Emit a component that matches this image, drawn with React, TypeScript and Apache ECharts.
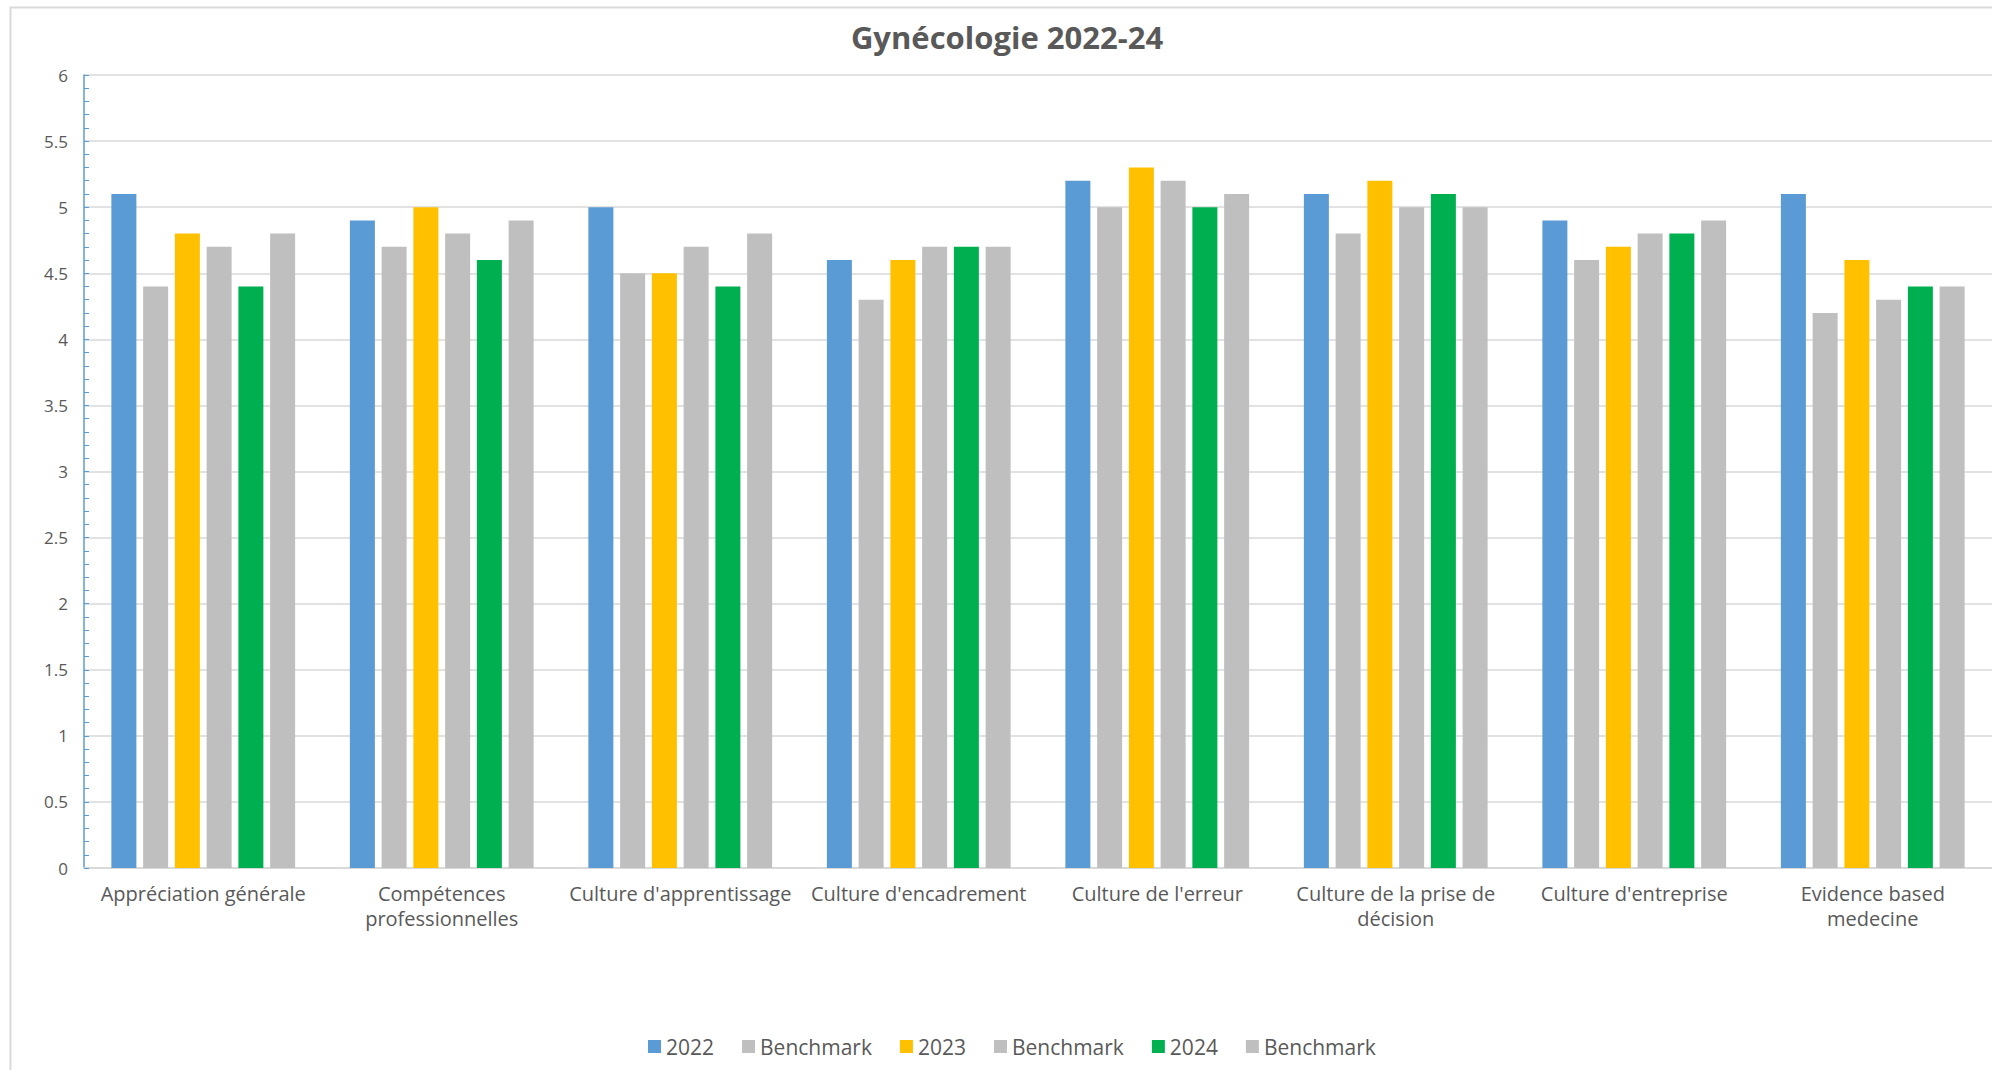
import React, { useEffect, useRef } from "react";
import * as echarts from "echarts";

const categories = [
  "Appréciation générale",
  "Compétences\nprofessionnelles",
  "Culture d'apprentissage",
  "Culture d'encadrement",
  "Culture de l'erreur",
  "Culture de la prise de\ndécision",
  "Culture d'entreprise",
  "Evidence based\nmedecine",
];

const values2022 = [5.1, 4.9, 5.0, 4.6, 5.2, 5.1, 4.9, 5.1];
const bench2022 = [4.4, 4.7, 4.5, 4.3, 5.0, 4.8, 4.6, 4.2];
const values2023 = [4.8, 5.0, 4.5, 4.6, 5.3, 5.2, 4.7, 4.6];
const bench2023 = [4.7, 4.8, 4.7, 4.7, 5.2, 5.0, 4.8, 4.3];
const values2024 = [4.4, 4.6, 4.4, 4.7, 5.0, 5.1, 4.8, 4.4];
const bench2024 = [4.8, 4.9, 4.8, 4.7, 5.1, 5.0, 4.9, 4.4];

const seriesNames = ["2022", "Benchmark#1", "2023", "Benchmark#2", "2024", "Benchmark#3"];
const seriesColors = ["#5b9bd5", "#bfbfbf", "#ffc000", "#bfbfbf", "#00b050", "#bfbfbf"];
const seriesData = [values2022, bench2022, values2023, bench2023, values2024, bench2024];

const FONT = "'Open Sans', 'Noto Sans', sans-serif";
const TEXT = "#595959";

export default function App() {
  const ref = useRef<HTMLDivElement>(null);

  useEffect(() => {
    document.body.style.margin = "0";
    if (!ref.current) return;
    const chart = echarts.init(ref.current, null, { renderer: "svg" });
    chart.setOption({
      animation: false,
      backgroundColor: "#ffffff",
      title: {
        text: "Gynécologie 2022-24",
        left: 1002,
        top: 16,
        textAlign: "center",
        textStyle: { color: TEXT, fontFamily: FONT, fontWeight: "bold", fontSize: 31 },
      },
      graphic: [
        {
          type: "polyline",
          shape: { points: [[10.5, 1075], [10.5, 7.5], [2000, 7.5]] },
          style: { stroke: "#d9d9d9", lineWidth: 2, fill: "none" },
          silent: true,
        },
      ],
      legend: {
        data: seriesNames,
        left: 643,
        top: 1031,
        itemWidth: 13,
        itemHeight: 13,
        itemGap: 28,
        icon: "rect",
        formatter: (name: string) => name.split("#")[0],
        textStyle: { color: TEXT, fontFamily: FONT, fontSize: 21 },
      },
      grid: { left: 84, right: 0, top: 75, bottom: 202, containLabel: false },
      xAxis: {
        type: "category",
        data: categories,
        axisLine: { show: true, lineStyle: { color: "#d9d9d9", width: 2 } },
        axisTick: { show: false },
        axisLabel: {
          interval: 0,
          color: TEXT,
          fontFamily: FONT,
          fontSize: 20,
          lineHeight: 25,
          margin: 13,
        },
        splitLine: { show: false },
      },
      yAxis: {
        type: "value",
        min: 0,
        max: 6,
        interval: 0.5,
        axisLine: { show: true, lineStyle: { color: "#5b9bd5", width: 1.5 } },
        axisTick: { show: true, inside: true, length: 5, lineStyle: { color: "#5b9bd5", width: 1 } },
        minorTick: { show: true, splitNumber: 5, length: 5, lineStyle: { color: "#5b9bd5", width: 1 } },
        axisLabel: { color: TEXT, fontFamily: FONT, fontSize: 17, margin: 16 },
        splitLine: { show: true, lineStyle: { color: "#d9d9d9", width: 1.5 } },
      },
      series: seriesNames.map((name, i) => ({
        name,
        type: "bar",
        data: seriesData[i],
        barWidth: 25,
        barGap: "27%",
        itemStyle: { color: seriesColors[i] },
      })),
    });
    return () => chart.dispose();
  }, []);

  return <div ref={ref} style={{ width: 1992, height: 1070 }} />;
}
